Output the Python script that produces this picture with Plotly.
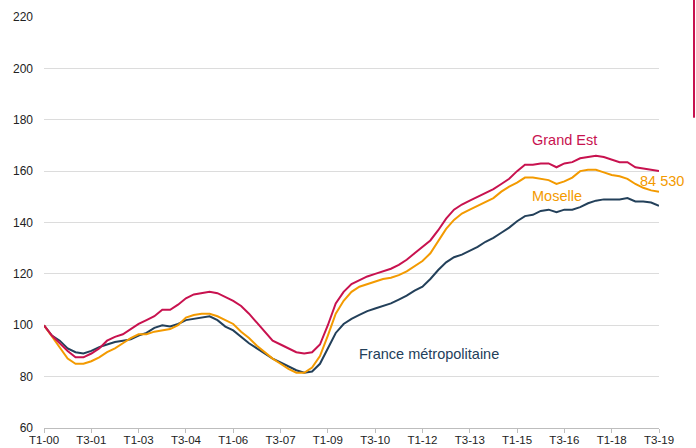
import plotly.graph_objects as go

quarters = [f"T{q}-{y:02d}" for y in range(0, 20) for q in range(1, 5)][:79]

tick_labels = ["T1-00", "T3-01", "T1-03", "T3-04", "T1-06", "T3-07", "T1-09",
               "T3-10", "T1-12", "T3-13", "T1-15", "T3-16", "T1-18", "T3-19"]

grand_est = [100, 96, 93, 90, 87.5, 87.5, 89, 91, 94, 95.5,
             96.5, 98.5, 100.5, 102, 103.5, 106, 106, 108, 110.5, 112,
             112.5, 113, 112.5, 111, 109.5, 107.5, 104.5, 101, 97.5, 94,
             92.5, 91, 89.5, 89, 89.5, 92.5, 100, 108.5, 113, 116,
             117.5, 119, 120, 121, 122, 123.5, 125.5, 128, 130.5, 133,
             137, 141.5, 145, 147, 148.5, 150, 151.5, 153, 155, 157,
             160, 162.5, 162.5, 163, 163, 161.5, 163, 163.5, 165, 165.5,
             166, 165.5, 164.5, 163.5, 163.5, 161.5, 161, 160.5, 160]

moselle = [100, 95.5, 91, 87, 85, 85, 86, 87.5, 89.5, 91,
           93, 95, 96.5, 96.5, 97.5, 98, 98.5, 100, 103, 104,
           104.5, 104.5, 103.5, 102, 100.5, 97.5, 95, 92, 89.5, 87,
           85, 83, 81.5, 81.5, 83.5, 88, 96, 104.5, 109.5, 113,
           115, 116, 117, 118, 118.5, 119.5, 121, 123, 125, 128,
           132.5, 137.5, 141, 143.5, 145, 146.5, 148, 149.5, 152, 154,
           155.5, 157.5, 157.5, 157, 156.5, 155, 156, 157.5, 160, 160.5,
           160.5, 159.5, 158.5, 158, 157, 155, 153.5, 152.5, 152]

france = [100, 96, 94, 91, 89.5, 89, 90, 91.5, 92.5, 93.5,
          94, 94.5, 96, 97, 99, 100, 99.5, 100.5, 102, 102.5,
          103, 103.5, 102, 99.5, 98, 95.5, 93, 91, 89, 87,
          85.5, 84, 82.5, 81.5, 82, 85, 91, 97, 100.5, 102.5,
          104, 105.5, 106.5, 107.5, 108.5, 110, 111.5, 113.5, 115, 118,
          121.5, 124.5, 126.5, 127.5, 129, 130.5, 132.5, 134, 136, 138,
          140.5, 142.5, 143, 144.5, 145, 144, 145, 145, 146, 147.5,
          148.5, 149, 149, 149, 149.5, 148.2, 148.2, 147.8, 146.5]

y_ticks = [60, 80, 100, 120, 140, 160, 180, 200, 220]

RED = "#C8124F"
ORANGE = "#F39A00"
DARK = "#23405A"
FONT = "Liberation Sans, Arial, sans-serif"

fig = go.Figure()
fig.add_trace(go.Scatter(x=quarters, y=france, mode="lines", name="France métropolitaine",
                         line=dict(color=DARK, width=2)))
fig.add_trace(go.Scatter(x=quarters, y=moselle, mode="lines", name="Moselle",
                         line=dict(color=ORANGE, width=2)))
fig.add_trace(go.Scatter(x=quarters, y=grand_est, mode="lines", name="Grand Est",
                         line=dict(color=RED, width=2)))

ann_font = dict(family=FONT, size=14.5)
fig.add_annotation(x=66.0, y=172.2, text="Grand Est", showarrow=False,
                   font=dict(ann_font, color=RED))
fig.add_annotation(x=65.1, y=150.2, text="Moselle", showarrow=False,
                   font=dict(ann_font, color=ORANGE))
fig.add_annotation(xref="paper", x=1.0054, xanchor="center", y=156.0, text="84 530",
                   showarrow=False, font=dict(ann_font, color=ORANGE))
fig.add_annotation(x=48.8, y=89.0, text="France métropolitaine", showarrow=False,
                   font=dict(ann_font, color=DARK))

# decorative red bar at the right edge
fig.add_shape(type="line", xref="paper", yref="paper", x0=1.0569, x1=1.0569,
              y0=0.755, y1=1.05, line=dict(color=RED, width=2))

fig.update_layout(
    width=696, height=448,
    margin=dict(l=44, r=37, t=17, b=20, autoexpand=False),
    paper_bgcolor="white", plot_bgcolor="white",
    showlegend=False, hovermode=False,
    font=dict(family=FONT, size=12, color="#222222"),
)
fig.update_xaxes(
    type="category", categoryorder="array", categoryarray=quarters,
    range=[0, 78], tickmode="array", tickvals=tick_labels, ticktext=tick_labels,
    showgrid=False, showline=True, linecolor="#BDBDBD", linewidth=1,
    ticks="outside", ticklen=4, tickcolor="#BDBDBD", automargin=False,
    ticklabelstandoff=-3,
    tickfont=dict(size=11.5, color="#222222"), zeroline=False,
)
fig.update_yaxes(
    range=[60, 220], tickvals=y_ticks, showgrid=True, gridcolor="#DCDCDC",
    gridwidth=1, showline=False, zeroline=False, ticks="", automargin=False,
    tickfont=dict(size=12, color="#222222"), ticklabelstandoff=10,
)

fig.write_html("out.html", config={"displayModeBar": False},
               post_script="document.body.style.margin='0px';")
